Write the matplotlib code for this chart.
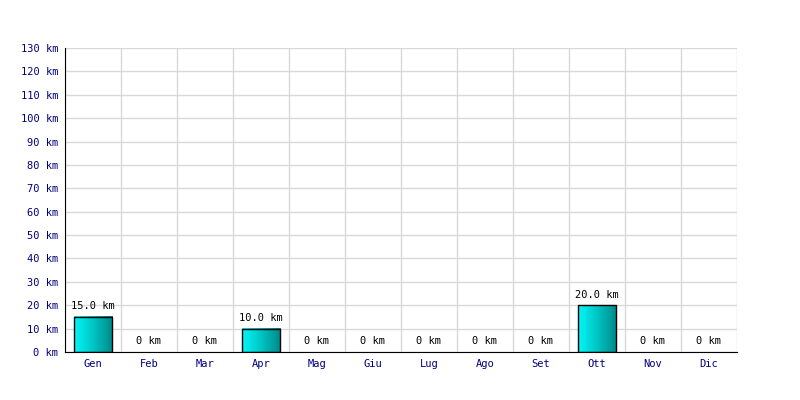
import numpy as np
import matplotlib
matplotlib.use("Agg")
import matplotlib.pyplot as plt
from matplotlib.colors import LinearSegmentedColormap

# mesi e km percorsi
mesi = ["Gen", "Feb", "Mar", "Apr", "Mag", "Giu", "Lug", "Ago", "Set", "Ott", "Nov", "Dic"]
km = [15.0, 0, 0, 10.0, 0, 0, 0, 0, 0, 20.0, 0, 0]
tick_km = list(range(0, 140, 10))

plt.rcParams["font.family"] = ["DejaVu Sans Mono"]
fs = 7.5

fig = plt.figure(figsize=(8, 4), dpi=100)
ax = fig.add_axes([65 / 800, 48 / 400, 672 / 800, 304 / 400])

x = np.arange(len(mesi))
larghezza = 0.68

# griglia
ax.set_yticks(tick_km)
ax.set_yticklabels([f"{v} km" for v in tick_km], color="#000080", fontsize=fs)
ax.set_xticks(x)
ax.set_xticklabels(mesi, color="#000080", fontsize=fs)
ax.set_xticks(np.arange(-0.5, len(mesi), 1), minor=True)
ax.grid(True, which="minor", axis="x", color="#d9d9d9", linewidth=1)
ax.grid(True, which="major", axis="y", color="#d9d9d9", linewidth=1)
ax.set_axisbelow(True)
ax.tick_params(axis="both", which="both", length=0)
ax.tick_params(axis="y", pad=5)
ax.tick_params(axis="x", pad=5)

for s in ["top", "right"]:
    ax.spines[s].set_visible(False)
ax.spines["left"].set_color("black")
ax.spines["bottom"].set_color("black")

# barre con sfumatura orizzontale
cmap = LinearSegmentedColormap.from_list("ciano", ["#00f8f8", "#00c4c4", "#008888"])
grad = np.linspace(0, 1, 256).reshape(1, -1)
for xi, v in zip(x, km):
    if v > 0:
        ax.imshow(grad, cmap=cmap, aspect="auto", zorder=2,
                  extent=(xi - larghezza / 2, xi + larghezza / 2, 0, v))
        ax.add_patch(plt.Rectangle((xi - larghezza / 2, 0), larghezza, v,
                                   fill=False, edgecolor="black", linewidth=1, zorder=3))
        testo = f"{v:.1f} km"
    else:
        testo = "0 km"
    ax.annotate(testo, (xi, v), xytext=(0, 4), textcoords="offset points",
                ha="center", va="bottom", fontsize=fs, color="black")

ax.set_xlim(-0.5, len(mesi) - 0.5)
ax.set_ylim(0, 130)

fig.savefig("out.png", dpi=100)
